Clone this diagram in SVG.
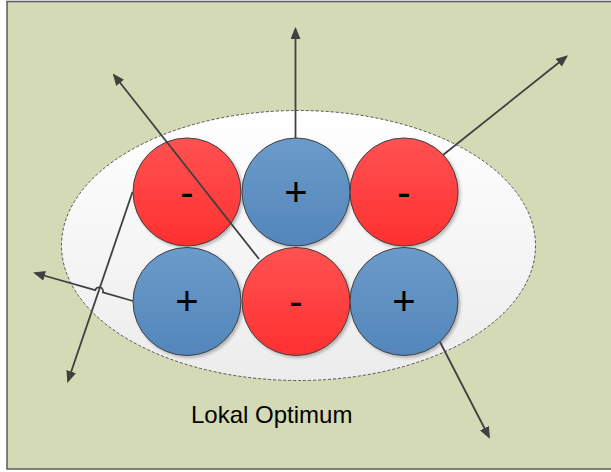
<svg xmlns="http://www.w3.org/2000/svg" width="611" height="472" viewBox="0 0 611 472">
  <defs>
    <linearGradient id="gRed" x1="0" y1="0" x2="0" y2="1">
      <stop offset="0" stop-color="#ff5252"/>
      <stop offset="1" stop-color="#ff3030"/>
    </linearGradient>
    <linearGradient id="gBlue" x1="0" y1="0" x2="0" y2="1">
      <stop offset="0" stop-color="#6b9bc9"/>
      <stop offset="1" stop-color="#5386bb"/>
    </linearGradient>
    <linearGradient id="gEll" x1="0" y1="0" x2="0" y2="1">
      <stop offset="0" stop-color="#ffffff"/>
      <stop offset="1" stop-color="#ececec"/>
    </linearGradient>
    <filter id="sh" x="-20%" y="-20%" width="140%" height="140%">
      <feDropShadow dx="2" dy="2" stdDeviation="1.5" flood-color="#000" flood-opacity="0.25"/>
    </filter>
    <marker id="arr" viewBox="0 0 12 10" refX="10" refY="5" markerWidth="12" markerHeight="10" markerUnits="userSpaceOnUse" orient="auto">
      <path d="M0,0 L12,5 L0,10 z" fill="#404040"/>
    </marker>
  </defs>
  <style>
    .red { fill: url(#gRed); stroke: #404040; stroke-width: 1; filter: url(#sh); }
    .blue { fill: url(#gBlue); stroke: #404040; stroke-width: 1; filter: url(#sh); }
    .sign { font-family: "Liberation Sans", Arial, sans-serif; font-size: 40px; fill: #000; text-anchor: middle; }
    .conn { fill: none; stroke: #404040; stroke-width: 1.8; marker-end: url(#arr); }
    .label { font-family: "Liberation Sans", Arial, sans-serif; font-size: 24px; fill: #000; }
  </style>

  <rect x="7" y="1.5" width="610" height="467.5" fill="#d3dab5" stroke="#5a5a5a" stroke-width="1.5"/>

  <g id="region">
    <ellipse cx="298.5" cy="245.5" rx="237" ry="135" fill="url(#gEll)" stroke="#555" stroke-width="1" stroke-dasharray="3 2"/>
  </g>

  <g id="n1"><circle class="red" cx="187" cy="192" r="54"/><text class="sign" x="187" y="206">-</text></g>
  <g id="n2"><circle class="blue" cx="296" cy="192" r="54"/><text class="sign" x="296" y="206">+</text></g>
  <g id="n3"><circle class="red" cx="404" cy="192" r="54"/><text class="sign" x="404" y="206">-</text></g>
  <g id="n4"><circle class="blue" cx="187" cy="301.5" r="54"/><text class="sign" x="187" y="315">+</text></g>
  <g id="n5"><circle class="red" cx="296" cy="301.5" r="54"/><text class="sign" x="296" y="315">-</text></g>
  <g id="n6"><circle class="blue" cx="404" cy="301.5" r="54"/><text class="sign" x="404" y="315">+</text></g>

  <g id="connectors">
    <path class="conn" d="M295.5,138 L295.5,29"/>
    <path class="conn" d="M443,155 L566.5,56.5"/>
    <path class="conn" d="M259,259 L114,75"/>
    <path class="conn" d="M132.5,192 L68,381"/>
    <path class="conn" d="M133,301 L102.9,292.4 A4,4 0 0 0 95.2,290.2 L35,273"/>
    <path class="conn" d="M440,342 L489,437"/>
  </g>

  <text id="caption" class="label" x="191" y="423">Lokal Optimum</text>
</svg>
